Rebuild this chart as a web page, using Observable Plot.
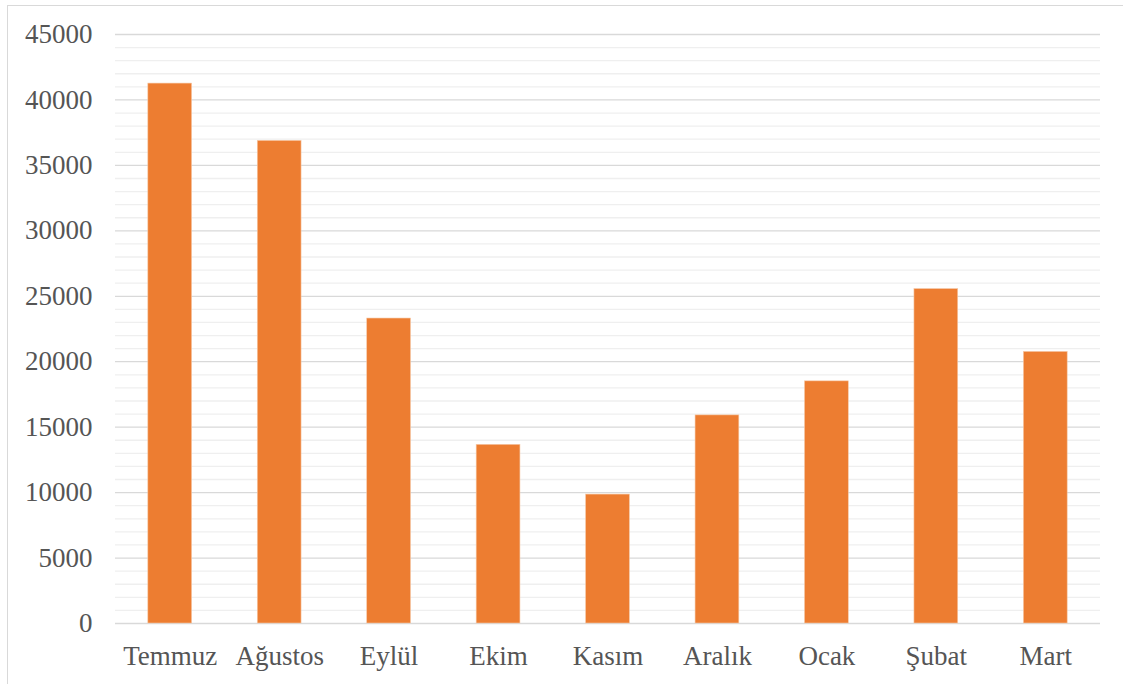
<!DOCTYPE html>
<html>
<head>
<meta charset="utf-8">
<script src="https://cdn.jsdelivr.net/npm/d3@7"></script>
<script src="https://cdn.jsdelivr.net/npm/@observablehq/plot@0.6"></script>
<style>
  html, body { margin: 0; padding: 0; background: #fff; overflow: hidden; }
  #wrap { position: relative; width: 1123px; height: 684px; overflow: hidden; }
  #frame { position: absolute; left: 7px; top: 5px; width: 1300px; height: 900px;
           border: 1.5px solid #d9d9d9; box-sizing: border-box; }
  #chart { position: absolute; left: 0; top: 0; }
</style>
</head>
<body>
<div id="wrap"><div id="frame"></div><div id="chart"></div></div>
<script>
const months = ["Temmuz", "Ağustos", "Eylül", "Ekim", "Kasım", "Aralık", "Ocak", "Şubat", "Mart"];
const values = [41250, 36870, 23300, 13650, 9850, 15900, 18500, 25550, 20750];
const majorTicks = [0, 5000, 10000, 15000, 20000, 25000, 30000, 35000, 40000, 45000];
const minorTicks = d3.range(0, 45001, 1000).filter(v => v % 5000 !== 0);

const data = months.map((m, i) => ({month: m, value: values[i]}));

const chart = Plot.plot({
  width: 1123,
  height: 684,
  marginLeft: 115,
  marginRight: 23,
  marginTop: 34,
  marginBottom: 61,
  style: {fontFamily: "'Liberation Serif', 'Times New Roman', serif", fontSize: "27px", color: "#595959", background: "transparent"},
  x: {domain: months, paddingInner: 0.6, paddingOuter: 0.3, round: false, label: null},
  y: {domain: [0, 45000], label: null},
  marks: [
    Plot.ruleY(minorTicks, {stroke: "#efefef", strokeWidth: 1.3}),
    Plot.ruleY(majorTicks, {stroke: "#d9d9d9", strokeWidth: 1.3}),
    Plot.barY(data, {x: "month", y: "value", fill: "#ED7D31", stroke: "#f6c9a8", strokeWidth: 0.6}),
    Plot.axisY(majorTicks, {tickSize: 0, tickPadding: 23, tickFormat: d => String(d), fill: "#555555", fontSize: 27}),
    Plot.axisX({tickSize: 0, tickPadding: 22, fill: "#555555", fontSize: 27})
  ]
});
document.getElementById("chart").appendChild(chart);
</script>
</body>
</html>
